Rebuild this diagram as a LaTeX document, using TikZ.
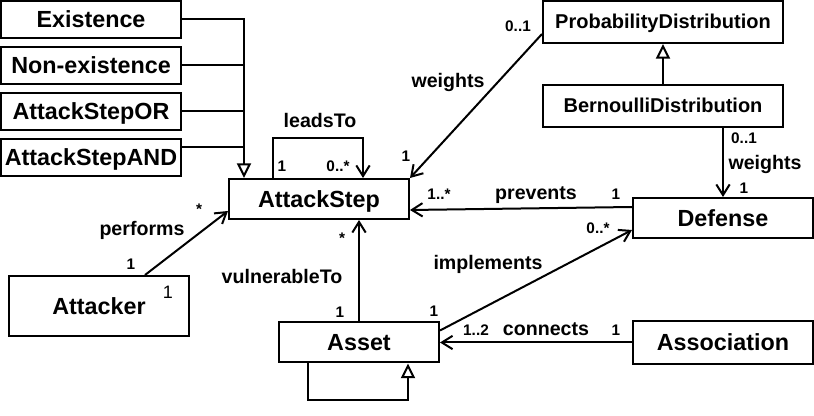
\documentclass[tikz,border=0pt]{standalone}
\usepackage{fontspec}
\setmainfont{Liberation Sans}
\usetikzlibrary{arrows.meta,calc}

\newcommand{\lw}{1.5pt}
\newcommand{\boxw}{135pt}

\begin{document}
\begin{tikzpicture}[x=0.75pt,y=-0.75pt,
	cls/.style={draw,line width=\lw,inner sep=0pt,text height=15.75pt,text depth=3.5pt,font=\fontsize{17.5}{20}\selectfont\bfseries},
	distcls/.style={cls,text height=13.5pt,text depth=3pt,font=\fontsize{15}{18}\selectfont\bfseries},
	rel/.style={inner sep=0pt,text height=13.2pt,text depth=2.9pt,font=\fontsize{14.7}{17}\selectfont\bfseries},
	mult/.style={inner sep=0pt,text height=10.35pt,text depth=2.3pt,font=\fontsize{11.5}{13}\selectfont\bfseries},
	assoc/.style={line width=\lw,-{Straight Barb[length=8pt,width=10pt]}},
	gen/.style={line width=\lw,-{Triangle[open,fill=white,length=11pt,width=10.5pt]}},
	plain/.style={line width=\lw}]
	\useasboundingbox (0,0) rectangle (814,416);
	%The attack step kinds
	\node[cls,minimum width=\boxw,minimum height=27.75pt] (exist) at (91,19.5) {Existence};
	\node[cls,minimum width=\boxw,minimum height=27.75pt] (nonexist) at (91,65.5) {Non-existence};
	\node[cls,minimum width=\boxw,minimum height=27.75pt] (stepor) at (91,111.5) {AttackStepOR};
	\node[cls,minimum width=\boxw,minimum height=27.75pt] (stepand) at (91,157.5) {AttackStepAND};
	%The main classes
	\node[cls,minimum width=\boxw,minimum height=30pt] (step) at (319,199) {AttackStep};
	\node[distcls,minimum width=180pt,minimum height=31.5pt] (prob) at (663,22) {ProbabilityDistribution};
	\node[distcls,minimum width=180pt,minimum height=31.5pt] (bern) at (663,106) {BernoulliDistribution};
	\node[cls,minimum width=\boxw,minimum height=30pt] (defense) at (723,218) {Defense};
	\node[cls,minimum width=\boxw,minimum height=45pt] (attacker) at (99,306) {Attacker};
	\node[inner sep=0pt,text height=12.15pt,text depth=2.7pt,font=\fontsize{13.5}{15}\selectfont] (attackerone) at (168,292) {1};
	\node[cls,minimum width=120pt,minimum height=30pt] (asset) at (359,342.5) {Asset};
	\node[cls,minimum width=\boxw,minimum height=32.25pt] (association) at (723,342.5) {Association};
	%Draw the generalisation trunk
	\coordinate (trunk) at ($(step.north west)+(16,0)$);
	\draw[gen] (exist.east) -| (trunk);
	\draw[plain] (nonexist.east) -- (nonexist.east -| trunk);
	\draw[plain] (stepor.east) -- (stepor.east -| trunk);
	\draw[plain] ($(stepand.east)+(0,-10)$) -- ($(stepand.east -| trunk)+(0,-10)$);
	\draw[gen] (bern.north) -- (prob.south);
	\draw[gen] ($(asset.south west)+(30,0)$) -- ++(0,37) -| ($(asset.south west)+(130,0)$);
	%Draw the associations
	\draw[assoc] ($(step.north west)+(45,0)$) -- ++(0,-40) -| ($(step.north west)+(135,0)$);
	\draw[assoc] ($(prob.south west)+(0,-10)$) -- (step.north east);
	\draw[assoc] (defense.north |- bern.south) -- (defense.north);
	\draw[assoc] ($(defense.north west)+(0,10)$) -- ($(step.south east)+(0,-10)$);
	\draw[assoc] ($(attacker.north)+(46,0)$) -- ($(step.south west)+(0,-9)$);
	\draw[assoc] (asset.north) -- (asset.north |- step.south);
	\draw[assoc] ($(asset.north east)+(0,9)$) -- ($(defense.south west)+(0,-9)$);
	\draw[assoc] (association.west) -- (asset.east);
	%The role names
	\node[rel] (leadsto) at (320,121) {leadsTo};
	\node[rel] (weightsstep) at (448,81) {weights};
	\node[rel] (weightsdef) at (765,163) {weights};
	\node[rel] (prevents) at (536,193) {prevents};
	\node[rel] (performs) at (142,229) {performs};
	\node[rel] (vulnerable) at (282,277) {vulnerableTo};
	\node[rel] (implements) at (488,263) {implements};
	\node[rel] (connects) at (546,329) {connects};
	%The multiplicities
	\node[mult] (leadsfrom) at (282,166) {1};
	\node[mult] (leadsmany) at (338,166) {0..*};
	\node[mult] (wprob) at (518,26) {0..1};
	\node[mult] (wstep) at (406,156) {1};
	\node[mult] (wbern) at (744,138) {0..1};
	\node[mult] (wdef) at (744,188) {1};
	\node[mult] (pstep) at (439,194) {1..*};
	\node[mult] (pdef) at (616,194) {1};
	\node[mult] (perfstep) at (199,209) {*};
	\node[mult] (perfatt) at (131,264) {1};
	\node[mult] (vstep) at (342,238) {*};
	\node[mult] (vasset) at (340,312) {1};
	\node[mult] (idef) at (598,228) {0..*};
	\node[mult] (iasset) at (434,311) {1};
	\node[mult] (casset) at (476,330) {1..2};
	\node[mult] (cassoc) at (616,330) {1};
\end{tikzpicture}
\end{document}
